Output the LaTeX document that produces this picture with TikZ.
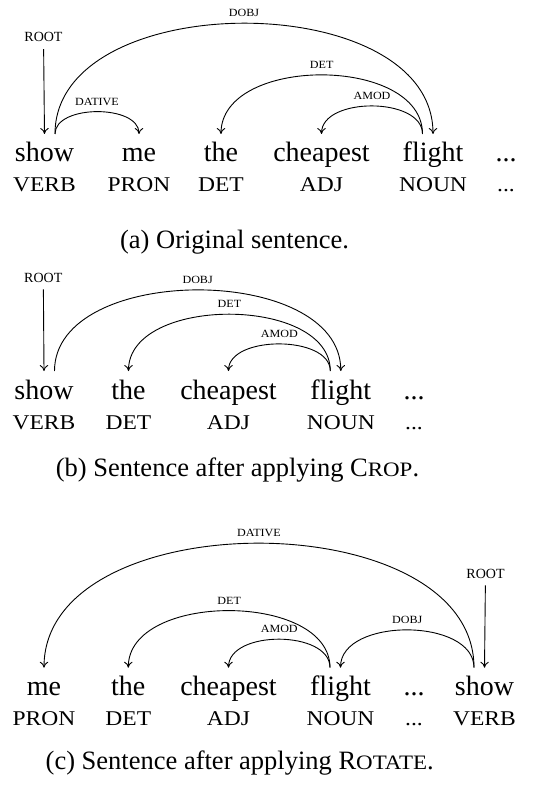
\documentclass[tikz,border=0pt]{standalone}
\usepackage{fontspec}
\setmainfont{Liberation Serif}
\newfontfamily\tagfont[FakeStretch=1.12]{Liberation Serif}
\newfontfamily\labfont[FakeStretch=1.1]{Liberation Serif}
\usetikzlibrary{arrows.meta, calc, positioning}

\tikzset{
  word/.style={anchor=base, inner sep=0pt, font=\fontsize{28}{30}\selectfont},
  postag/.style={anchor=base, inner sep=0pt, font=\tagfont\fontsize{21}{24}\selectfont},
  deplab/.style={anchor=base, inner sep=0pt, yshift=6.5pt, font=\labfont\fontsize{11}{13}\selectfont},
  rootlab/.style={anchor=base, inner sep=7pt, font=\fontsize{14}{16}\selectfont},
  dep/.style={line width=0.9pt, -{To[length=6pt,width=8.5pt]}},
  caption/.style={anchor=base, inner sep=0pt, font=\fontsize{26.5}{30}\selectfont},
}
\newcommand{\smallcapsfake}[1]{{\tagfont\fontsize{20.5}{24}\selectfont #1}}
\newcommand{\moredots}{.\kern0pt.\kern0pt.}

\begin{document}
\begin{tikzpicture}[x=1pt, y=-1pt]
  \useasboundingbox (0,0) rectangle (536,791);

  % (a) original sentence
  \foreach \n/\px/\w/\t in {1/44.5/show/VERB, 2/139/me/PRON, 3/221/the/DET,
      4/321.5/cheapest/ADJ, 5/433/flight/NOUN, 6/506/\moredots/\moredots} {
    \node[word] (a\n) at (\px,162) {\w};
    \node[postag] (a\n-tag) at (\px,192) {\t};
    \coordinate (a\n-in) at ($(a\n.base)+(0,-28)$);
    \coordinate (a\n-l) at ($(a\n.base)+(-10.5,-28)$);
    \coordinate (a\n-r) at ($(a\n.base)+(10.5,-28)$);
  }
  \node[rootlab] (aroot) at (43.5,41.7) {ROOT};
  \draw[dep] (aroot) -- (a1-in);
  \draw[dep] (a1-r) .. controls +(0,-147.6) and +(0,-147.6) .. (a5-in)
    node[deplab, midway] {DOBJ};
  \draw[dep] (a1-r) .. controls +(0,-29.7) and +(0,-29.7) .. (a2-in)
    node[deplab, midway] {DATIVE};
  \draw[dep] (a5-l) .. controls +(0,-78.7) and +(0,-78.7) .. (a3-in)
    node[deplab, midway] {DET};
  \draw[dep] (a5-l) .. controls +(0,-37.3) and +(0,-37.3) .. (a4-in)
    node[deplab, midway] {AMOD};
  \node[caption] (capa) at (234.5,248.3) {(a) Original sentence.};

  % (b) after crop
  \foreach \n/\px/\w/\t in {1/44/show/VERB, 2/128.5/the/DET, 3/228.5/cheapest/ADJ,
      4/340.8/flight/NOUN, 5/414/\moredots/\moredots} {
    \node[word] (b\n) at (\px,399) {\w};
    \node[postag] (b\n-tag) at (\px,429) {\t};
    \coordinate (b\n-in) at ($(b\n.base)+(0,-28)$);
    \coordinate (b\n-l) at ($(b\n.base)+(-10.5,-28)$);
    \coordinate (b\n-r) at ($(b\n.base)+(10.5,-28)$);
  }
  \node[rootlab] (broot) at (43.3,282) {ROOT};
  \draw[dep] (broot) -- (b1-in);
  \draw[dep] (b1-r) .. controls +(0,-108) and +(0,-108) .. (b4-in)
    node[deplab, midway] {DOBJ};
  \draw[dep] (b4-l) .. controls +(0,-75.6) and +(0,-75.6) .. (b2-in)
    node[deplab, midway] {DET};
  \draw[dep] (b4-l) .. controls +(0,-36) and +(0,-36) .. (b3-in)
    node[deplab, midway] {AMOD};
  \node[caption] (capb) at (237.5,476.7) {(b) Sentence after applying C\smallcapsfake{ROP}.};

  % (c) after rotate
  \foreach \n/\px/\w/\t in {1/44/me/PRON, 2/128.3/the/DET, 3/228.5/cheapest/ADJ,
      4/340.5/flight/NOUN, 5/414/\moredots/\moredots, 6/484.5/show/VERB} {
    \node[word] (c\n) at (\px,695.7) {\w};
    \node[postag] (c\n-tag) at (\px,725.7) {\t};
    \coordinate (c\n-in) at ($(c\n.base)+(0,-28)$);
    \coordinate (c\n-l) at ($(c\n.base)+(-10.5,-28)$);
    \coordinate (c\n-r) at ($(c\n.base)+(10.5,-28)$);
  }
  \node[rootlab] (croot) at (485.5,578) {ROOT};
  \draw[dep] (croot) -- (c6-in);
  \draw[dep] (c6-l) .. controls +(0,-165.9) and +(0,-165.9) .. (c1-in)
    node[deplab, midway] {DATIVE};
  \draw[dep] (c6-l) .. controls +(0,-50.3) and +(0,-50.3) .. (c4-in)
    node[deplab, midway] {DOBJ};
  \draw[dep] (c4-l) .. controls +(0,-76) and +(0,-76) .. (c2-in)
    node[deplab, midway] {DET};
  \draw[dep] (c4-l) .. controls +(0,-37.9) and +(0,-37.9) .. (c3-in)
    node[deplab, midway] {AMOD};
  \node[caption] (capc) at (239.7,769.3) {(c) Sentence after applying R\smallcapsfake{OTATE}.};
\end{tikzpicture}
\end{document}
